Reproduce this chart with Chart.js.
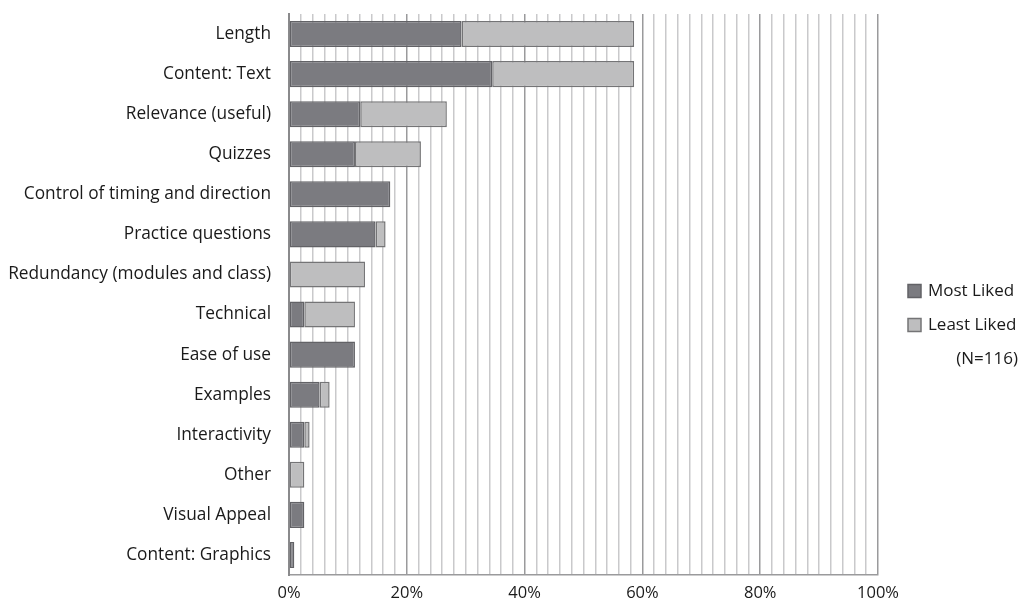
<!DOCTYPE html>
<html>
<head>
<meta charset="utf-8">
<script src="https://cdn.jsdelivr.net/npm/chart.js@4"></script>
<style>
html,body{margin:0;padding:0;background:#fff;}
#wrap{width:1020px;height:603px;position:relative;}
</style>
</head>
<body>
<div id="wrap"><canvas id="c"></canvas></div>
<script>
const categories = ["Length","Content: Text","Relevance (useful)","Quizzes","Control of timing and direction","Practice questions","Redundancy (modules and class)","Technical","Ease of use","Examples","Interactivity","Other","Visual Appeal","Content: Graphics"];
const mostLiked  = [29.3, 34.5, 12.1, 11.2, 17.2, 14.7, 0, 2.6, 11.2, 5.2, 2.6, 0, 2.6, 0.9];
const leastLiked = [29.3, 24.1, 14.7, 11.2, 0, 1.7, 12.9, 8.6, 0, 1.7, 0.9, 2.6, 0, 0];
const seriesNames = ["Most Liked","Least Liked"];
const sampleNote = "(N=116)";

const FONT = "'Open Sans', 'DejaVu Sans', sans-serif";
const darkFill = "#7b7b80", darkBorder = "#626266";
const lightFill = "#bebebf", lightBorder = "#747476";

const legendPlugin = {
  id: 'customLegend',
  afterDraw(chart) {
    const ctx = chart.ctx;
    ctx.save();
    ctx.font = "17px " + FONT;
    ctx.textBaseline = "middle";
    const ys = [291, 325];
    chart.data.datasets.forEach((ds, i) => {
      ctx.fillStyle = ds.backgroundColor;
      ctx.strokeStyle = ds.borderColor;
      ctx.lineWidth = 1.5;
      ctx.fillRect(908, ys[i]-6.5, 13, 13);
      ctx.strokeRect(908, ys[i]-6.5, 13, 13);
      ctx.fillStyle = "#1a1a1a";
      ctx.textAlign = "left";
      ctx.fillText(ds.label, 928, ys[i]);
    });
    ctx.textAlign = "right";
    ctx.fillText(sampleNote, 1018, 359);
    ctx.restore();
  }
};

new Chart(document.getElementById('c'), {
  type: 'bar',
  data: {
    labels: categories,
    datasets: [
      {label: seriesNames[0], data: mostLiked, backgroundColor: darkFill, borderColor: darkBorder, borderWidth: 1.5, borderSkipped: false},
      {label: seriesNames[1], data: leastLiked, backgroundColor: lightFill, borderColor: lightBorder, borderWidth: 1.5, borderSkipped: false}
    ]
  },
  options: {
    indexAxis: 'y',
    responsive: true,
    maintainAspectRatio: false,
    animation: false,
    devicePixelRatio: 1,
    layout: {padding: {top: 14, right: 142, bottom: 0, left: 0}},
    datasets: {bar: {barPercentage: 0.65, categoryPercentage: 1.0}},
    plugins: {legend: {display: false}, tooltip: {enabled: false}},
    scales: {
      x: {
        stacked: true,
        min: 0, max: 100,
        afterFit(s){ s.height = 28; s.paddingLeft = 0; s.paddingRight = 0; },
        grid: {
          drawTicks: false,
          color: (c) => (c.tick && c.tick.value % 20 === 0) ? "#9a9a9c" : "#c9c9cb",
          lineWidth: 1.5
        },
        border: {display: true, color: "#9a9a9c", width: 1.5},
        ticks: {
          stepSize: 2,
          autoSkip: false,
          maxRotation: 0,
          padding: 8,
          color: "#1a1a1a",
          font: {family: FONT, size: 16.5},
          callback: (v) => (v % 20 === 0) ? v + "%" : ""
        }
      },
      y: {
        stacked: true,
        afterFit(s){ s.width = 289; s.paddingTop = 0; s.paddingBottom = 0; },
        grid: {display: false, drawTicks: false},
        border: {display: true, color: "#8a8a8c", width: 2},
        ticks: {
          padding: 18,
          color: "#1a1a1a",
          font: {family: FONT, size: 17.3}
        }
      }
    }
  },
  plugins: [legendPlugin]
});
</script>
</body>
</html>
